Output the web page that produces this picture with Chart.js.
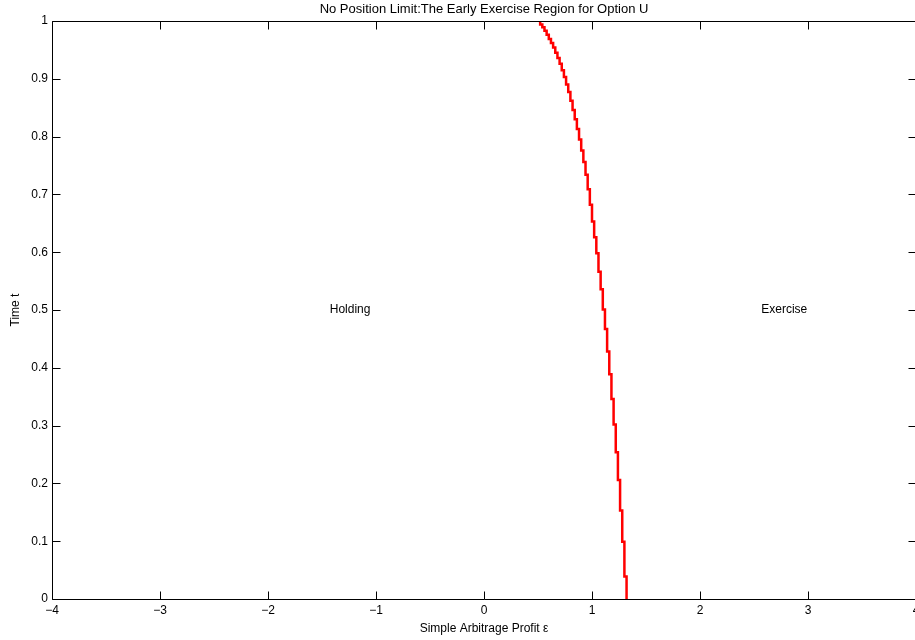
<!DOCTYPE html>
<html>
<head>
<meta charset="utf-8">
<title>Early Exercise Region</title>
<script src="https://cdn.jsdelivr.net/npm/chart.js@4.4.1/dist/chart.umd.min.js"></script>
<style>
  html, body { margin: 0; padding: 0; background: #fff; overflow: hidden; }
  #wrap { width: 915px; height: 640px; overflow: hidden; }
</style>
</head>
<body>
<div id="wrap"><canvas id="chart" width="925" height="640"></canvas></div>
<script>
// boundary: epsilon value of each vertical step, and the time at the top of that step
const epsSteps = [0.52, 0.54, 0.56, 0.58, 0.60, 0.62, 0.64, 0.66, 0.68, 0.70,
                  0.72, 0.74, 0.76, 0.78, 0.80, 0.82, 0.84, 0.86, 0.88, 0.90,
                  0.92, 0.94, 0.96, 0.98, 1.00, 1.02, 1.04, 1.06, 1.08, 1.10,
                  1.12, 1.14, 1.16, 1.18, 1.20, 1.22, 1.24, 1.26, 1.28, 1.30, 1.32];
const stepTop = [1.000, 0.994, 0.989, 0.983, 0.976, 0.969, 0.962, 0.954, 0.945, 0.936,
                 0.926, 0.915, 0.903, 0.890, 0.877, 0.862, 0.846, 0.830, 0.813, 0.795,
                 0.776, 0.756, 0.734, 0.709, 0.682, 0.653, 0.626, 0.598, 0.566, 0.536,
                 0.501, 0.467, 0.428, 0.389, 0.346, 0.302, 0.254, 0.206, 0.153, 0.099, 0.039];
const xTicks = [-4, -3, -2, -1, 0, 1, 2, 3, 4];
const yTicks = [0, 0.1, 0.2, 0.3, 0.4, 0.5, 0.6, 0.7, 0.8, 0.9, 1];
const regionLabels = [
  {text: 'Holding', x: -1.24, y: 0.5},
  {text: 'Exercise', x: 2.78, y: 0.5}
];
const titleText = 'No Position Limit:The Early Exercise Region for Option U';

const FONT = '"Liberation Sans", Arial, Helvetica, sans-serif';
const FS = 12;

const points = epsSteps.map((e, i) => ({x: e, y: stepTop[i]}));
points.push({x: epsSteps[epsSteps.length - 1], y: 0});

const fmtX = v => (v < 0 ? '\u2212' + Math.abs(v) : String(v));
const fmtY = v => String(Number(v.toFixed(1)));

const frame = {
  id: 'frame',
  afterDatasetsDraw(chart) {
    const {ctx, chartArea: a, scales} = chart;
    const L = Math.round(a.left) + 0.5, R = Math.round(a.right) + 0.5;
    const T = Math.round(a.top) + 0.5, B = Math.round(a.bottom) + 0.5;
    const len = 8;
    ctx.save();
    ctx.strokeStyle = '#000';
    ctx.lineWidth = 1;
    ctx.beginPath();
    ctx.rect(L, T, R - L, B - T);
    xTicks.forEach(v => {
      const px = Math.round(scales.x.getPixelForValue(v)) + 0.5;
      ctx.moveTo(px, B); ctx.lineTo(px, B - len);
      ctx.moveTo(px, T); ctx.lineTo(px, T + len);
    });
    yTicks.forEach(v => {
      const py = Math.round(scales.y.getPixelForValue(v)) + 0.5;
      ctx.moveTo(L, py); ctx.lineTo(L + len, py);
      ctx.moveTo(R, py); ctx.lineTo(R - len, py);
    });
    ctx.stroke();

    ctx.fillStyle = '#000';
    ctx.font = FS + 'px ' + FONT;
    ctx.textAlign = 'center';
    ctx.textBaseline = 'middle';
    regionLabels.forEach(l => {
      ctx.fillText(l.text, scales.x.getPixelForValue(l.x), scales.y.getPixelForValue(l.y));
    });
    ctx.font = '13px ' + FONT;
    ctx.fillText(titleText, (a.left + a.right) / 2, 9);
    ctx.restore();
  }
};

new Chart(document.getElementById('chart').getContext('2d'), {
  type: 'line',
  data: {
    datasets: [{
      data: points,
      borderColor: '#ff0000',
      borderWidth: 2.5,
      pointRadius: 0,
      stepped: 'after',
      fill: false
    }]
  },
  options: {
    responsive: false,
    animation: false,
    layout: { padding: { top: 21, right: 9, left: 0, bottom: 0 } },
    plugins: { legend: { display: false }, tooltip: { enabled: false }, title: { display: false } },
    scales: {
      x: {
        type: 'linear', min: -4, max: 4,
        afterFit: s => { s.height = 41; },
        afterBuildTicks: s => { s.ticks = xTicks.map(v => ({value: v})); },
        grid: { display: false, drawTicks: false },
        border: { display: false },
        ticks: { color: '#000', padding: 4, maxRotation: 0, autoSkip: false,
                 font: { family: FONT, size: FS }, callback: fmtX },
        title: { display: true, text: 'Simple Arbitrage Profit \u03b5', color: '#000',
                 font: { family: FONT, size: FS }, padding: { top: 0, bottom: 4 } }
      },
      y: {
        type: 'linear', min: 0, max: 1,
        afterFit: s => { s.width = 52; },
        afterBuildTicks: s => { s.ticks = yTicks.map(v => ({value: v})); },
        grid: { display: false, drawTicks: false },
        border: { display: false },
        ticks: { color: '#000', padding: 4, autoSkip: false,
                 font: { family: FONT, size: FS }, callback: fmtY },
        title: { display: true, text: 'Time t', color: '#000',
                 font: { family: FONT, size: FS }, padding: { top: 8, bottom: 0 } }
      }
    }
  },
  plugins: [frame]
});
</script>
</body>
</html>
